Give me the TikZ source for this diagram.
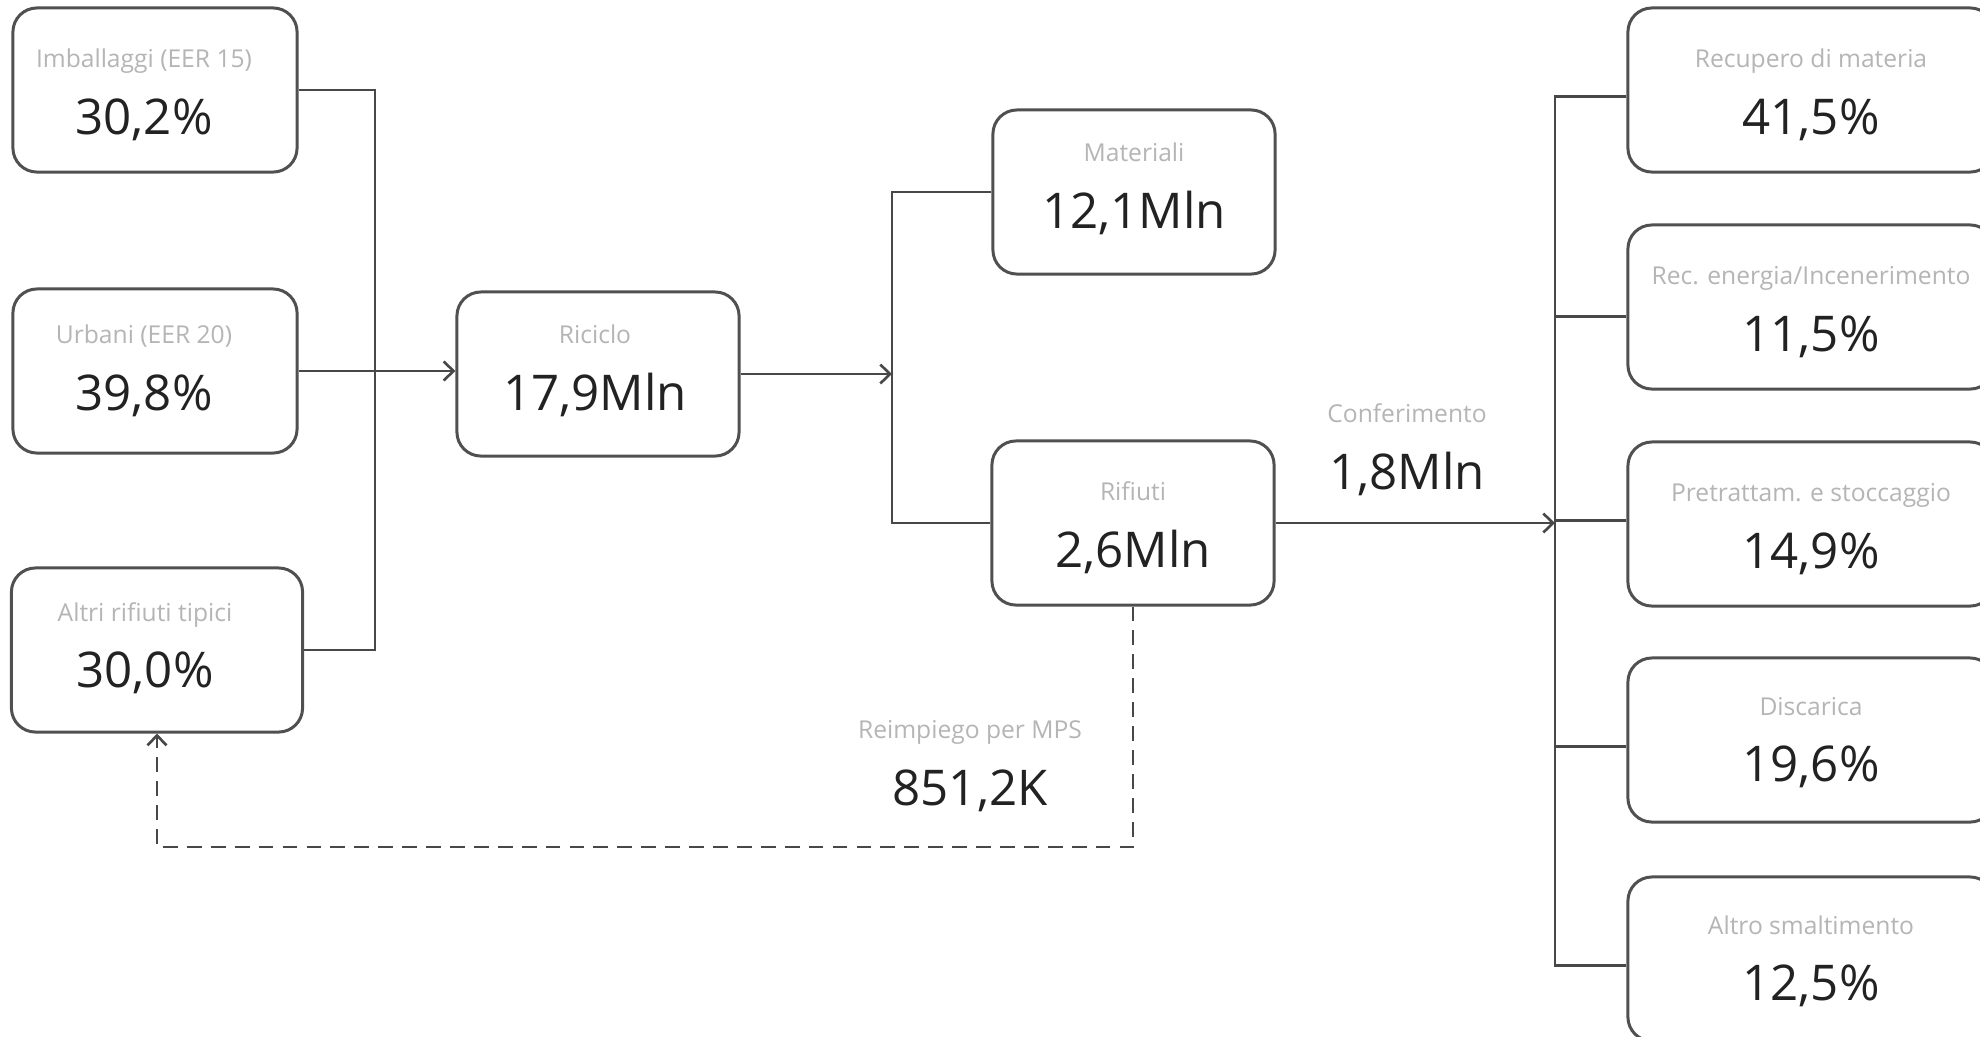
\documentclass[tikz,border=0pt]{standalone}
\usepackage{fontspec}
\setmainfont{Open Sans}
\usepackage{xcolor}
\definecolor{boxgray}{RGB}{80,80,80}
\definecolor{linegray}{RGB}{72,72,72}
\definecolor{ttlgray}{RGB}{182,180,180}
\definecolor{valblack}{RGB}{34,34,34}
\usetikzlibrary{arrows.meta}

% title line, value line, optional right padding to push the text left
\newcommand{\flowtext}[3][0pt]{{\color{ttlgray}\fontsize{7}{9}\selectfont\rule{0pt}{8.7pt}#2\hspace*{#1}}\\%
  {\fontsize{14}{17}\selectfont #3\rule[-\dimexpr2.5pt+\flowlift\relax]{0pt}{\dimexpr2.5pt+\flowlift\relax}\hspace*{#1}}}

\tikzset{flowlift/.store in=\flowlift, flowlift=0pt}

\begin{document}
\begin{tikzpicture}[x=0.01cm, y=-0.01cm,
    flowbox/.style={draw=boxgray, line width=0.85pt, rounded corners=0.24cm, fill=white, align=center,
      minimum width=2.82cm, minimum height=1.64cm, text=valblack, font=\fontsize{14}{19}\selectfont},
    outbox/.style={flowbox, minimum width=3.66cm},
    link/.style={draw=linegray, line width=0.75pt},
    flow/.style={link, -{Straight Barb[length=2.8pt, width=5.4pt]}},
    reuse/.style={flow, dash pattern=on 4.2pt off 2.6pt},
    flowlabel/.style={align=center, text=valblack, font=\fontsize{14}{19}\selectfont}]
  \useasboundingbox (0,0) rectangle (1980,1036);
  \clip (0,0) rectangle (1980,1036);

  % Sources
  \node[flowbox, minimum width=2.84cm] (imb) at (155,90) {\flowtext[0.22cm]{Imballaggi (EER 15)}{30,2\%}};
  \node[flowbox, minimum width=2.84cm, flowlift=2.9pt] (urb) at (155,371) {\flowtext[0.22cm]{Urbani (EER 20)}{39,8\%}};
  \node[flowbox, minimum width=2.91cm, flowlift=3.6pt] (alt) at (157,650) {\flowtext[0.24cm]{Altri rifiuti tipici}{30,0\%}};

  % Recycling
  \node[flowbox, flowlift=4.3pt] (ric) at (598,374) {\flowtext[0.06cm]{Riciclo}{17,9Mln}};
  \node[flowbox, flowlift=4.3pt] (mat) at (1134,192) {\flowtext{Materiali}{12,1Mln}};
  \node[flowbox] (rif) at (1133,523) {\flowtext{Rifiuti}{2,6Mln}};

  % Destinations
  \node[outbox] (dst1) at (1811,90) {\flowtext{Recupero di materia}{41,5\%}};
  \node[outbox] (dst2) at (1811,307) {\flowtext{Rec. energia/Incenerimento}{11,5\%}};
  \node[outbox] (dst3) at (1811,524) {\flowtext{Pretrattam. e stoccaggio}{14,9\%}};
  \node[outbox, flowlift=1.4pt] (dst4) at (1811,740) {\flowtext{Discarica}{19,6\%}};
  \node[outbox, flowlift=1.4pt] (dst5) at (1811,959) {\flowtext{Altro smaltimento}{12,5\%}};

  % Labels
  \node[flowlabel] (conf) at (1407,445) {\flowtext{Conferimento}{1,8Mln}};
  \node[flowlabel] (mps) at (970,761) {\flowtext{Reimpiego per MPS}{851,2K}};

  % Junctions
  \coordinate (busL) at (375,0);
  \coordinate (busM) at (892,0);
  \coordinate (busR) at (1555,0);
  \coordinate (loop) at (0,847);

  % Connectors
  \draw[link] (imb.east) -| (busL |- alt.east) -- (alt.east);
  \draw[flow] (urb.east) -- (ric.west |- urb.east);
  \draw[flow] (ric.east) -- (busM |- ric.east);
  \draw[link] (mat.west) -| (busM |- rif.west) -- (rif.west);
  \draw[flow] (rif.east) -- (busR |- rif.east);
  \draw[link] (dst1.182) -| (busR |- dst5.182) -- (dst5.182);
  \foreach \d/\a in {dst2/183.5,dst3/179.5,dst4/182}
    \draw[link] (\d.\a) -- (busR |- \d.\a);
  \draw[reuse] (rif.south) -- (rif.south |- loop) -| (alt.south);
\end{tikzpicture}
\end{document}
